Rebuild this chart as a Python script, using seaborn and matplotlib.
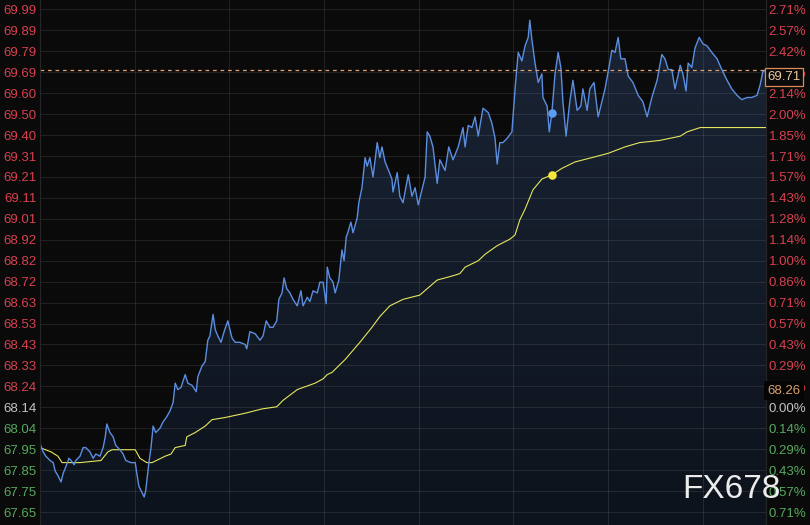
import numpy as np
import pandas as pd
import seaborn as sns
import matplotlib.pyplot as plt
from matplotlib.colors import LinearSegmentedColormap

sns.set_style('dark', {'axes.facecolor': '#0a0a0a', 'figure.facecolor': '#0a0a0a'})
plt.rcParams['font.family'] = ['Liberation Sans', 'DejaVu Sans']

# intraday price, minutes since session open
minutes = [0, 6, 11, 19, 25, 29, 34, 40, 44, 49,
           55, 59, 65, 68, 76, 82, 87, 95, 101, 106,
           114, 120, 124, 127, 133, 139, 144, 152, 158, 163,
           173, 181, 184, 188, 192, 198, 201, 207, 211, 215,
           220, 228, 234, 240, 247, 253, 257, 262, 268, 276,
           281, 289, 297, 300, 308, 314, 319, 323, 329, 333,
           338, 344, 350, 357, 365, 371, 380, 390, 393, 399,
           409, 418, 424, 430, 437, 443, 450, 454, 460, 464,
           469, 475, 481, 489, 496, 500, 508, 513, 519, 527,
           532, 538, 544, 546, 551, 557, 561, 568, 574, 578,
           582, 585, 591, 595, 603, 606, 612, 618, 622, 627,
           633, 641, 646, 650, 656, 661, 669, 671, 679, 684,
           690, 700, 707, 713, 719, 726, 732, 736, 741, 747,
           755, 760, 770, 777, 785, 795, 804, 808, 814, 821,
           827, 833, 842, 852, 859, 865, 869, 874, 880, 888,
           897, 903, 909, 916, 922, 928, 931, 935, 941, 947,
           954, 956, 964, 968, 973, 979, 985, 990, 994, 1000,
           1007, 1013, 1021, 1028, 1032, 1040, 1045, 1053, 1061, 1068,
           1074, 1080, 1087, 1093, 1099, 1104, 1112, 1118, 1127, 1137,
           1146, 1154, 1163, 1173, 1182, 1188, 1194, 1201, 1207, 1217,
           1222, 1228, 1232, 1239, 1245, 1253, 1260, 1268, 1277, 1287,
           1296, 1306, 1315, 1325, 1334, 1344, 1353, 1363, 1369, 1374,
           1380]
price = [67.97, 67.93, 67.91, 67.89, 67.88, 67.84, 67.82, 67.79, 67.83, 67.86,
         67.90, 67.89, 67.87, 67.89, 67.91, 67.95, 67.95, 67.93, 67.90, 67.92,
         67.91, 67.95, 68.00, 68.06, 68.02, 68.00, 67.96, 67.94, 67.92, 67.89,
         67.88, 67.88, 67.83, 67.77, 67.75, 67.72, 67.75, 67.88, 67.95, 68.05,
         68.02, 68.04, 68.07, 68.09, 68.12, 68.16, 68.25, 68.22, 68.23, 68.29,
         68.25, 68.24, 68.21, 68.28, 68.33, 68.35, 68.45, 68.47, 68.57, 68.50,
         68.47, 68.44, 68.49, 68.54, 68.46, 68.44, 68.44, 68.43, 68.41, 68.49,
         68.48, 68.45, 68.47, 68.54, 68.51, 68.51, 68.54, 68.64, 68.67, 68.74,
         68.69, 68.67, 68.64, 68.61, 68.68, 68.61, 68.65, 68.63, 68.68, 68.67,
         68.72, 68.72, 68.62, 68.79, 68.74, 68.72, 68.67, 68.73, 68.87, 68.82,
         68.93, 68.95, 69.00, 68.95, 69.02, 69.09, 69.16, 69.30, 69.26, 69.30,
         69.21, 69.37, 69.30, 69.35, 69.28, 69.25, 69.20, 69.14, 69.23, 69.12,
         69.09, 69.22, 69.12, 69.16, 69.08, 69.15, 69.21, 69.42, 69.40, 69.35,
         69.18, 69.29, 69.24, 69.35, 69.29, 69.35, 69.44, 69.35, 69.45, 69.44,
         69.49, 69.40, 69.53, 69.51, 69.46, 69.39, 69.27, 69.37, 69.37, 69.39,
         69.42, 69.62, 69.79, 69.75, 69.82, 69.86, 69.94, 69.85, 69.74, 69.65,
         69.69, 69.58, 69.54, 69.42, 69.51, 69.69, 69.79, 69.72, 69.56, 69.40,
         69.56, 69.66, 69.52, 69.54, 69.62, 69.52, 69.62, 69.65, 69.49, 69.56,
         69.62, 69.70, 69.80, 69.79, 69.86, 69.76, 69.76, 69.68, 69.65, 69.59,
         69.56, 69.49, 69.58, 69.66, 69.78, 69.76, 69.71, 69.71, 69.62, 69.73,
         69.69, 69.61, 69.74, 69.72, 69.81, 69.86, 69.83, 69.82, 69.79, 69.76,
         69.71, 69.66, 69.62, 69.59, 69.57, 69.58, 69.58, 69.59, 69.64, 69.70,
         69.71]

# average price line
avg_minutes = [0, 21, 34, 42, 76, 116, 129, 137, 181, 190,
               203, 213, 238, 249, 257, 276, 279, 295, 314, 327,
               352, 390, 422, 450, 462, 489, 523, 538, 546, 555,
               580, 608, 631, 646, 665, 690, 722, 736, 755, 785,
               798, 808, 833, 846, 869, 893, 903, 912, 922, 937,
               954, 973, 992, 1017, 1049, 1080, 1112, 1140, 1178, 1217,
               1230, 1255, 1296, 1380]
avg_price = [67.95, 67.93, 67.91, 67.88, 67.88, 67.89, 67.93, 67.94, 67.94, 67.90,
             67.88, 67.88, 67.91, 67.92, 67.95, 67.96, 68.00, 68.02, 68.05, 68.08,
             68.09, 68.11, 68.13, 68.14, 68.17, 68.22, 68.25, 68.27, 68.29, 68.30,
             68.36, 68.44, 68.51, 68.56, 68.61, 68.64, 68.66, 68.69, 68.73, 68.75,
             68.76, 68.79, 68.82, 68.85, 68.89, 68.92, 68.94, 69.01, 69.06, 69.15,
             69.20, 69.22, 69.25, 69.28, 69.30, 69.32, 69.35, 69.37, 69.38, 69.40,
             69.42, 69.44, 69.44, 69.44]

left_labels = ['69.99', '69.89', '69.79', '69.69', '69.60', '69.50', '69.40', '69.31',
               '69.21', '69.11', '69.01', '68.92', '68.82', '68.72', '68.63', '68.53',
               '68.43', '68.33', '68.24', '68.14', '68.04', '67.95', '67.85', '67.75', '67.65']
right_labels = ['2.71%', '2.57%', '2.42%', '2.28%', '2.14%', '2.00%', '1.85%', '1.71%',
                '1.57%', '1.43%', '1.28%', '1.14%', '1.00%', '0.86%', '0.71%', '0.57%',
                '0.43%', '0.29%', '0.14%', '0.00%', '0.14%', '0.29%', '0.43%', '0.57%', '0.71%']
prev_close = 68.14
last_price = 69.71
tag_price = '68.26'
hover_minute = 973
session_len = 1380

df = pd.DataFrame({'minute': minutes, 'price': price})
avg = pd.DataFrame({'minute': avg_minutes, 'price': avg_price})

fig = plt.figure(figsize=(8.1, 5.25), dpi=100)
ax = fig.add_axes([40 / 810, 0, 726 / 810, 1])

step = (float(left_labels[0]) - float(left_labels[-1])) / (len(left_labels) - 1)
levels = [float(left_labels[0]) - i * step for i in range(len(left_labels))]
ytop = levels[0] + 0.45 * step
ybot = levels[-1] - 0.62 * step

# gradient area under the price line
area = ax.fill_between(df.minute, df.price, ybot, facecolor='none', linewidth=0)
cmap = LinearSegmentedColormap.from_list('area', ['#0d131c', '#1a2435'])
im = ax.imshow(np.linspace(0, 1, 256).reshape(-1, 1), cmap=cmap, origin='lower',
               extent=[0, session_len, ybot, df.price.max()], aspect='auto', zorder=0.3)
im.set_clip_path(area.get_paths()[0], transform=ax.transData)

sns.lineplot(data=avg, x='minute', y='price', ax=ax, color='#e4e65c', linewidth=0.8,
             estimator=None, sort=False, zorder=3)
sns.lineplot(data=df, x='minute', y='price', ax=ax, color='#5b8ee0', linewidth=1.0,
             estimator=None, sort=False, zorder=4)

ax.axhline(last_price, color='#e3a06e', linewidth=0.9, ls=(0, (3, 3)), zorder=5)

hp = df.loc[df.minute == hover_minute, 'price'].iloc[0]
ha = avg.loc[avg.minute == hover_minute, 'price'].iloc[0]
ax.scatter([hover_minute], [hp], s=38, color='#5b9cf0', zorder=6, linewidth=0)
ax.scatter([hover_minute], [ha], s=38, color='#f4e63a', zorder=6, linewidth=0)

ax.set_xlim(0, session_len)
ax.set_ylim(ybot, ytop)
ax.set_xticks(range(0, session_len, 180))
ax.set_yticks(levels)
ax.set_yticklabels(left_labels)
ax.set_xlabel('')
ax.set_ylabel('')
ax.set_axisbelow('line')
ax.grid(True, color='white', alpha=0.09, linewidth=0.8)
ax.tick_params(axis='x', length=0, labelbottom=False)
ax.tick_params(axis='y', length=0, pad=2.5, labelsize=9.5)


def label_color(txt):
    v = float(txt)
    if abs(v - prev_close) < 1e-6:
        return '#c4c4c4'
    return '#d9404f' if v > prev_close else '#55a95d'


colors = [label_color(t) for t in left_labels]
for lab, c in zip(ax.get_yticklabels(), colors):
    lab.set_color(c)

ax2 = ax.twinx()
ax2.set_ylim(ybot, ytop)
ax2.set_yticks(levels)
ax2.set_yticklabels(right_labels)
ax2.tick_params(axis='y', length=0, pad=2, labelsize=9.5)
for lab, c in zip(ax2.get_yticklabels(), colors):
    lab.set_color(c)

for a in (ax, ax2):
    for side in ('top', 'bottom'):
        a.spines[side].set_visible(False)
    for side in ('left', 'right'):
        a.spines[side].set_visible(True)
        a.spines[side].set_color('#262626')
        a.spines[side].set_linewidth(0.8)

# price tags on the right scale
ax2.text(1.002, last_price - 0.035, f'{last_price:.2f}', transform=ax2.get_yaxis_transform(),
         ha='left', va='center', fontsize=9.5, color='#f0c8a0', zorder=10,
         bbox=dict(boxstyle='square,pad=0.2', facecolor='#0a0a0a', edgecolor='#e08a5a', linewidth=0.9))
ax2.text(1.002, 68.215, tag_price, transform=ax2.get_yaxis_transform(),
         ha='left', va='center', fontsize=9.5, color='#dba06a', zorder=10,
         bbox=dict(boxstyle='square,pad=0.25', facecolor='#050505', edgecolor='none'))

fig.text(682 / 810, 1 - 490 / 525, 'FX678', fontsize=24, color='#ececec',
         ha='left', va='center')

plt.savefig('out.png', dpi=100, facecolor=fig.get_facecolor())
